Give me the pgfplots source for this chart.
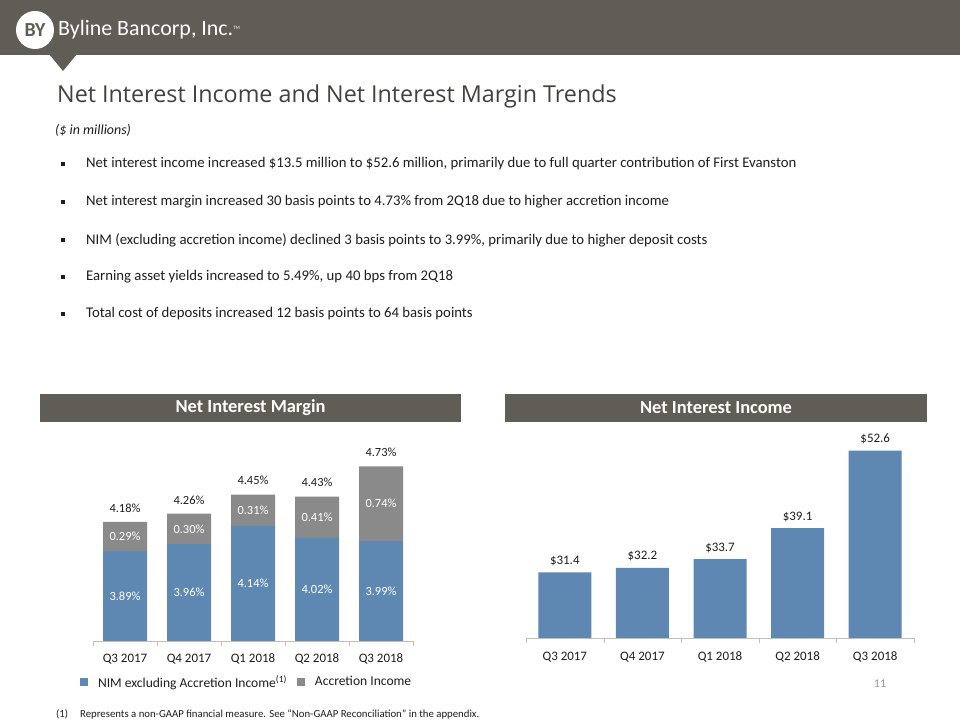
\documentclass[border=0pt]{standalone}
\usepackage{pgfplots}
\pgfplotsset{compat=1.18}
\usepackage{fontspec}
\setmainfont{Carlito}
\newfontfamily\titlefont{Open Sans}
\definecolor{band}{RGB}{96,92,86}
\definecolor{barblue}{RGB}{94,135,178}
\definecolor{bargray}{RGB}{138,138,138}
\definecolor{axisgray}{RGB}{191,191,191}
\definecolor{txt}{RGB}{30,30,30}
\newcommand{\fs}[1]{\fontsize{#1}{#1}\selectfont}
\begin{document}
\begin{tikzpicture}[x=1bp,y=1bp]
\path[use as bounding box, fill=white] (0,0) rectangle (960,720);
% header band
\fill[band] (0,665) rectangle (960,720);
\fill[band] (49,666) -- (77,666) -- (63,649) -- cycle;
\fill[white] (35,690) circle (19);
\node[font=\bfseries\fs{20}, text=band] at (35,690) {BY};
\node[anchor=west, text=white, font=\fs{22}, inner sep=0] at (58,690) {Byline Bancorp, Inc.\raisebox{0.6ex}{\fs{5}TM}};
% title
\node[anchor=west, inner sep=0, font=\titlefont\fs{23.4}, text=band!70!black] at (57,624) {Net Interest Income and Net Interest Margin Trends};
\node[anchor=west, inner sep=0, font=\itshape\fs{14}, text=txt] at (55,590) {(\$ in millions)};
% bullets
\foreach \yy/\tt in {556/{Net interest income increased \$13.5 million to \$52.6 million, primarily due to full quarter contribution of First Evanston},
 518/{Net interest margin increased 30 basis points to 4.73\%  from 2Q18  due to higher accretion income},
 480/{NIM (excluding accretion income) declined 3 basis points to 3.99\%, primarily due to higher deposit costs},
 443/{Earning asset yields increased to 5.49\%, up 40  bps from 2Q18},
 406/{Total cost of deposits increased 12 basis points to 64 basis points}}{
 \fill[txt] (60.5,\yy-2) rectangle (64.5,\yy+2);
 \node[anchor=west, inner sep=0, font=\fs{14.8}, text=txt] at (86,\yy) {\tt};
}
% chart headers
\fill[band] (40,298) rectangle (461,326);
\node[font=\bfseries\fs{18.5}, text=white] at (250.5,312) {Net Interest Margin};
\fill[band] (505,298) rectangle (927,326);
\node[font=\bfseries\fs{18.5}, text=white] at (716,312) {Net Interest Income};
% left chart
\begin{axis}[
  at={(93bp,79bp)}, anchor=south west,
  scale only axis, width=320bp, height=202bp,
  ybar stacked, bar width=44bp,
  xmin=-0.5, xmax=4.5, ymin=3, ymax=5,
  axis x line*=bottom, axis y line=none,
  axis line style={axisgray, -},
  xtick={0,...,4},
  xticklabels={Q3 2017,Q4 2017,Q1 2018,Q2 2018,Q3 2018},
  major tick length=0pt,
  typeset ticklabels with strut,
  xticklabel style={font=\fs{13}, text=txt, yshift=-9bp},
  extra x ticks={-0.5,0.5,1.5,2.5,3.5,4.5},
  extra x tick labels={},
  extra x tick style={major tick length=5bp, tick align=outside, tick style={axisgray}},
  /pgf/number format/assume math mode=true,
  legend style={at={(0.48,-0.203)}, anchor=center, draw=none, legend columns=2,
    font=\fs{13.6}, text=txt, column sep=8bp, inner sep=0pt},
  legend image code/.code={\fill[#1] (0bp,-4bp) rectangle (8bp,4bp);},
]
\addplot[fill=barblue, draw=none] coordinates {(0,3.89) (1,3.96) (2,4.14) (3,4.02) (4,3.99)};
\addlegendentry{NIM excluding Accretion Income\textsuperscript{(1)}}
\addplot[fill=bargray, draw=none] coordinates {(0,0.29) (1,0.30) (2,0.31) (3,0.41) (4,0.74)};
\addlegendentry{Accretion Income}
\foreach \i/\b/\g in {0/3.89/0.29, 1/3.96/0.30, 2/4.14/0.31, 3/4.02/0.41, 4/3.99/0.74}{
  \pgfmathsetmacro{\yb}{(3+\b)/2}
  \pgfmathsetmacro{\yg}{\b+\g/2}
  \pgfmathsetmacro{\yt}{\b+\g}
  \edef\temp{\noexpand\coordinate (lb\i) at (axis cs:\i,\yb);
    \noexpand\coordinate (lg\i) at (axis cs:\i,\yg);
    \noexpand\coordinate (lt\i) at (axis cs:\i,\yt);}
  \temp
}
\end{axis}
\foreach \i/\b/\g/\t in {0/3.89/0.29/4.18, 1/3.96/0.30/4.26, 2/4.14/0.31/4.45, 3/4.02/0.41/4.43, 4/3.99/0.74/4.73}{
  \node[font=\fs{12.5}, text=white] at (lb\i) {\b\%};
  \node[font=\fs{12.5}, text=white] at (lg\i) {\g\%};
  \node[font=\fs{12.5}, text=txt, anchor=south, yshift=6bp] at (lt\i) {\t\%};
}
% right chart
\begin{axis}[
  at={(526bp,82bp)}, anchor=south west,
  scale only axis, width=388bp, height=207bp,
  ybar, bar width=53bp,
  xmin=-0.5, xmax=4.5, ymin=20, ymax=56,
  axis x line*=bottom, axis y line=none,
  axis line style={axisgray, -},
  xtick={0,...,4},
  xticklabels={Q3 2017,Q4 2017,Q1 2018,Q2 2018,Q3 2018},
  major tick length=0pt,
  typeset ticklabels with strut,
  xticklabel style={font=\fs{13}, text=txt, yshift=-10bp},
  extra x ticks={-0.5,0.5,1.5,2.5,3.5,4.5},
  extra x tick labels={},
  extra x tick style={major tick length=5bp, tick align=outside, tick style={axisgray}},
  /pgf/number format/assume math mode=true,
  nodes near coords={\$\pgfmathprintnumber[fixed,fixed zerofill,precision=1]{\pgfplotspointmeta}},
  every node near coord/.append style={font=\fs{13}, text=txt, yshift=3bp},
]
\addplot[fill=barblue, draw=none] coordinates {(0,31.4) (1,32.2) (2,33.7) (3,39.1) (4,52.6)};
\end{axis}
% page number and footnote
\node[font=\fs{12}, text=axisgray!80!black] at (880,36) {11};
\node[anchor=west, inner sep=0, font=\fs{10.8}, text=txt] at (56,6) {(1)};
\node[anchor=west, inner sep=0, font=\fs{10.8}, text=txt] at (80,6) {Represents a non-GAAP financial measure. See “Non-GAAP Reconciliation” in the appendix.};
\end{tikzpicture}
\end{document}
